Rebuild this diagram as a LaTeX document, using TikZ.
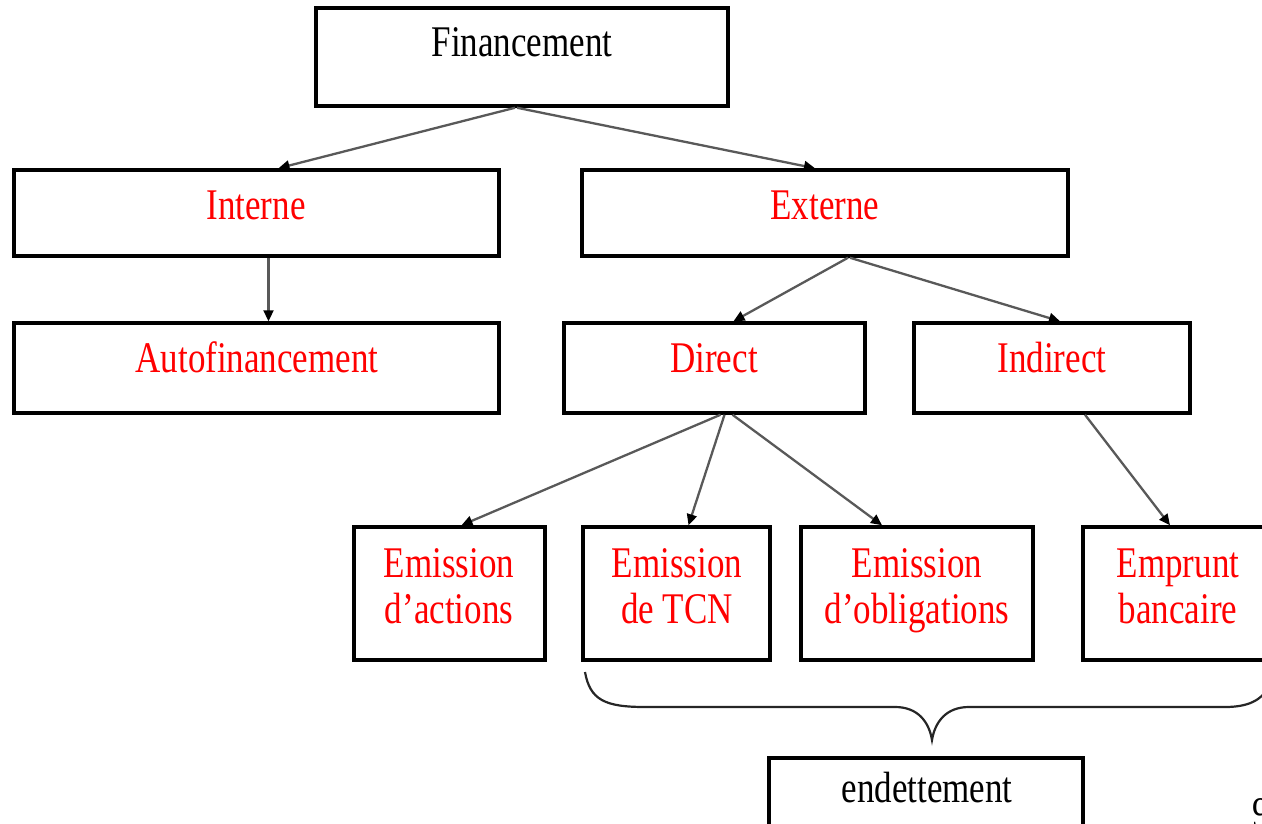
\documentclass[tikz,border=0pt]{standalone}
\usepackage{fontspec}
\setmainfont{Liberation Serif}
\usetikzlibrary{arrows.meta}
\newcommand\vst[1]{\scalebox{1}[1.25]{#1}}
\begin{document}
\begin{tikzpicture}[x=1pt,y=-1pt,
  box/.style={draw=black,line width=3.5pt,rectangle,inner sep=0pt},
  lab/.style={anchor=base,inner sep=0pt,font=\fontsize{35}{40}\selectfont,text=red},
  blab/.style={lab,text=black},
  conn/.style={draw=black!65,line width=2.3pt,-{Triangle[length=11pt,width=10pt,color=black]}},
  bracestyle/.style={draw=black!85,line width=2.2pt}]
\useasboundingbox (0,0) rectangle (1262,824);
% boxes
\node[box,minimum width=412,minimum height=98] (fin) at (522,57) {};
\node[box,minimum width=485,minimum height=86] (int) at (256.5,213) {};
\node[box,minimum width=486,minimum height=86] (ext) at (825,213) {};
\node[box,minimum width=485,minimum height=90] (auto) at (256.5,368) {};
\node[box,minimum width=301,minimum height=90] (dir) at (714.5,368) {};
\node[box,minimum width=276,minimum height=90] (ind) at (1052,368) {};
\node[box,minimum width=191,minimum height=133] (act) at (449.5,593.5) {};
\node[box,minimum width=187,minimum height=133] (tcn) at (676.5,593.5) {};
\node[box,minimum width=232,minimum height=133] (obl) at (917,593.5) {};
\node[box,minimum width=192,minimum height=133] (emp) at (1179,593.5) {};
\node[box,minimum width=314,minimum height=110] (end) at (926,813) {};
% texts
\node[blab] (finL) at (522,57) {\vst{Financement}};
\node[lab] (intL) at (256,219) {\vst{Interne}};
\node[lab] (extL) at (825,219) {\vst{Externe}};
\node[lab] (autoL) at (257,372) {\vst{Autofinancement}};
\node[lab] (dirL) at (714,372) {\vst{Direct}};
\node[lab] (indL) at (1052,372) {\vst{Indirect}};
\node[lab] (actL1) at (449,577) {\vst{Emission}};
\node[lab] (actL2) at (449,623) {\vst{d’actions}};
\node[lab] (tcnL1) at (677,577) {\vst{Emission}};
\node[lab] (tcnL2) at (677,623) {\vst{de TCN}};
\node[lab] (oblL1) at (917,577) {\vst{Emission}};
\node[lab] (oblL2) at (917,623) {\vst{d’obligations}};
\node[lab] (empL1) at (1178,577) {\vst{Emprunt}};
\node[lab] (empL2) at (1178,623) {\vst{bancaire}};
\node[blab] (endL) at (927,802) {\vst{endettement}};
\node[blab,anchor=base west] (pg) at (1252,827) {\vst{9}};
% connectors
\draw[conn] ([xshift=-7pt]fin.south) -- ([xshift=22pt]int.north);
\draw[conn] ([xshift=-5pt]fin.south) -- ([xshift=-10pt]ext.north);
\draw[conn] ([xshift=12pt]int.south) -- ([xshift=12pt]auto.north);
\draw[conn] ([xshift=23pt]ext.south) -- ([xshift=19pt]dir.north);
\draw[conn] ([xshift=25pt]ext.south) -- ([xshift=8pt]ind.north);
\draw[conn] ([xshift=6pt]dir.south) -- ([xshift=12pt]act.north);
\draw[conn] ([xshift=10pt]dir.south) -- ([xshift=12pt]tcn.north);
\draw[conn] ([xshift=18pt]dir.south) -- ([xshift=-35pt]obl.north);
\draw[conn] ([xshift=33pt]ind.south) -- ([xshift=-9pt]emp.north);
% brace
\coordinate (bl) at (585,672);
\coordinate (bt) at (932,740);
\coordinate (br) at (1272,680);
\draw[bracestyle] (bl) .. controls (590,700) and (605,707) .. (645,707)
  -- (895,707) .. controls (918,707) and (929,722) .. (bt)
  .. controls (935,722) and (946,707) .. (969,707)
  -- (1225,707) .. controls (1252,707) and (1265,698) .. (br);
\end{tikzpicture}
\end{document}
